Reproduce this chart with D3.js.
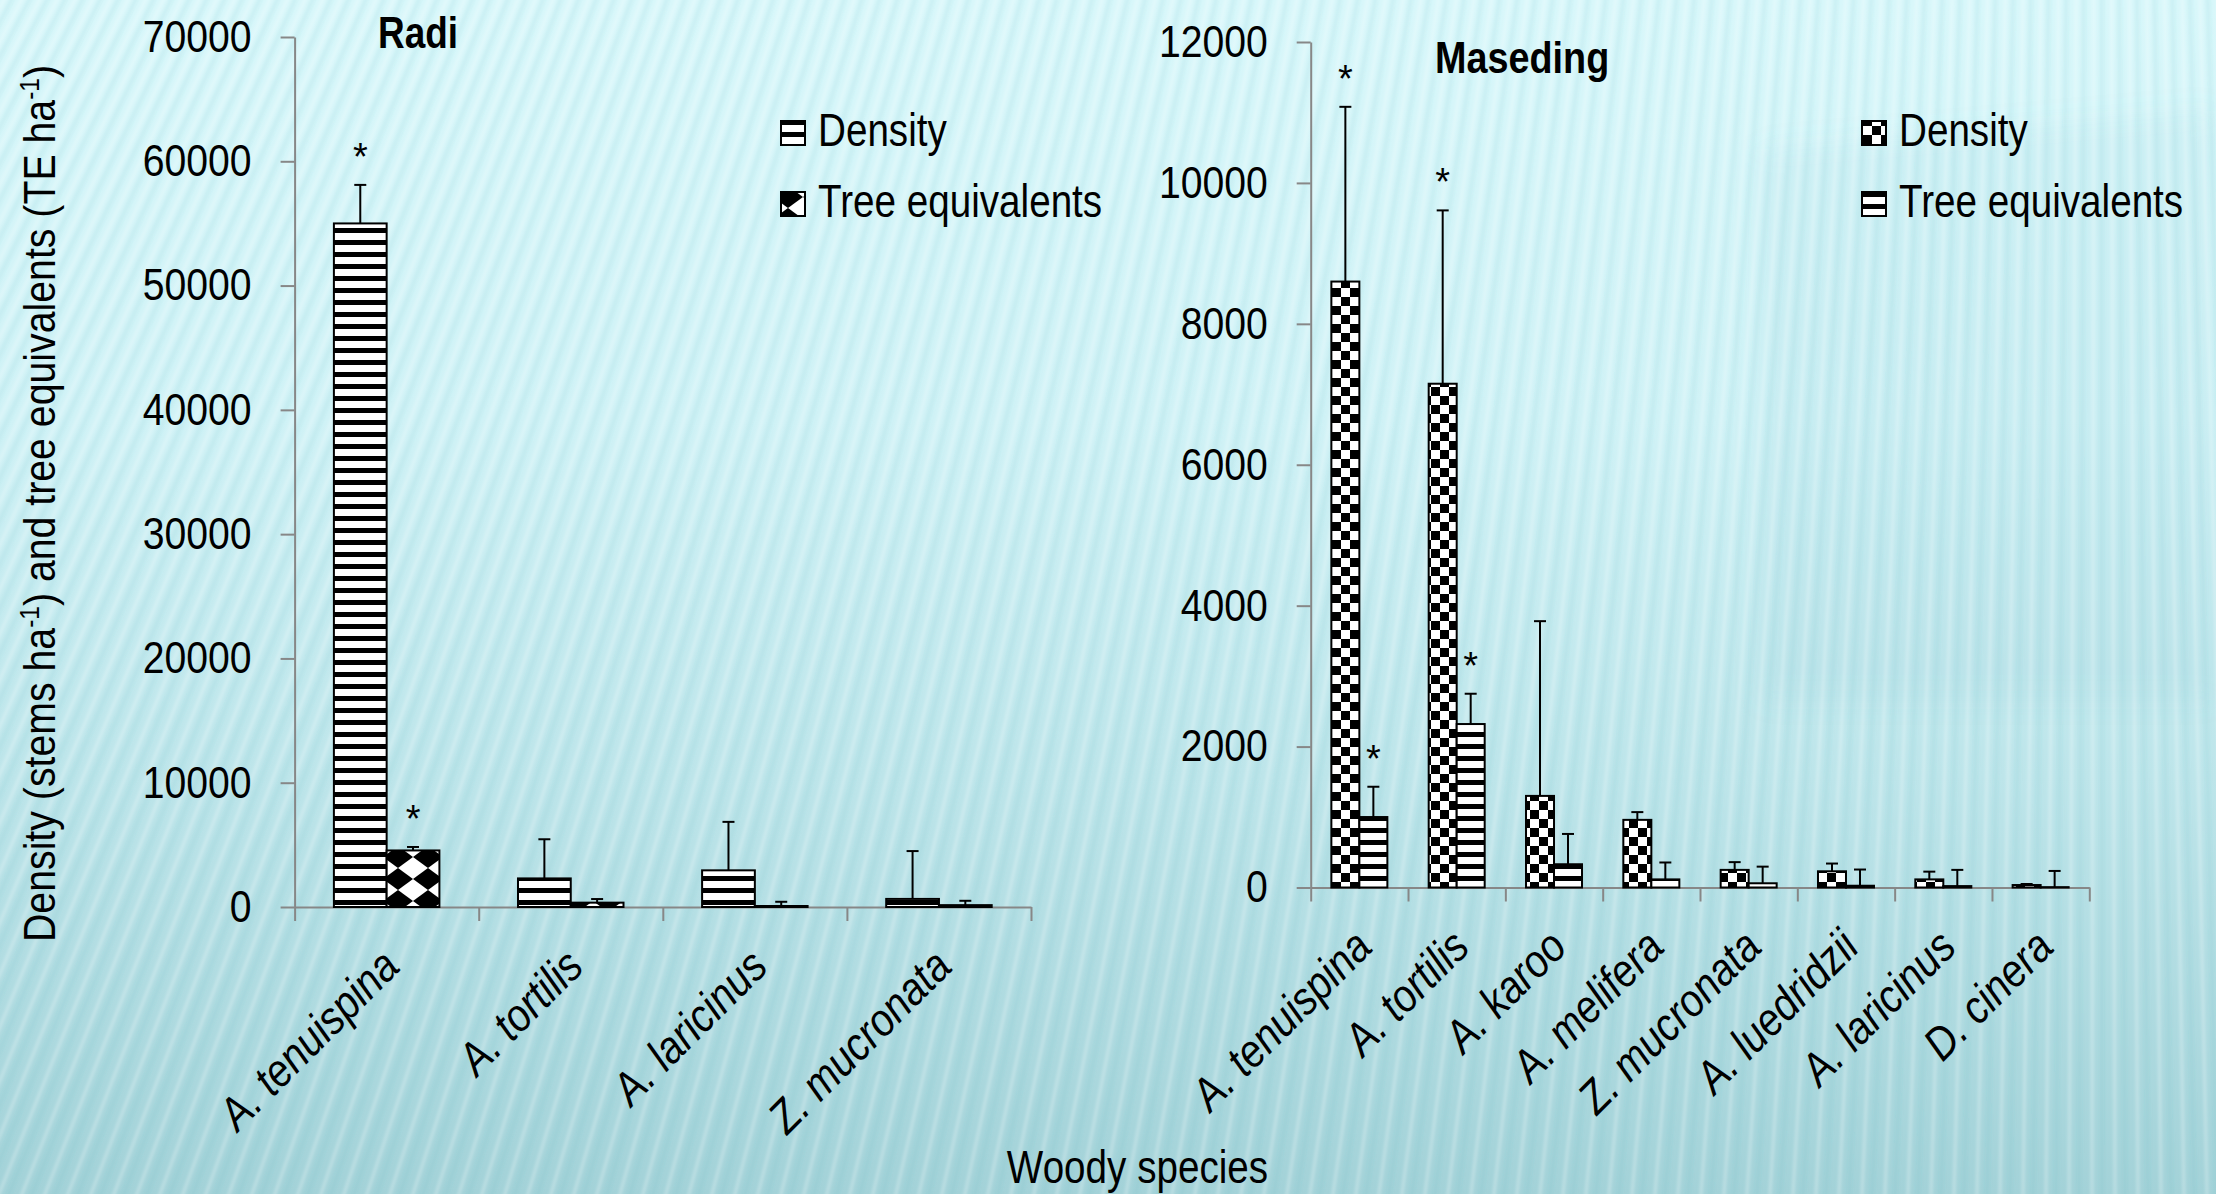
<!DOCTYPE html>
<html><head><meta charset="utf-8">
<script src="https://cdn.jsdelivr.net/npm/d3@7"></script>
<style>html,body{margin:0;padding:0;overflow:hidden;background:#cdeff3}</style>
</head><body><svg id="chart" width="2216" height="1194"></svg>
<script>
// ---------------- DATA ----------------
const radiSpecies = ["A. tenuispina", "A. tortilis", "A. laricinus", "Z. mucronata"];
const radiDensity = [55000, 2300, 2950, 650];
const radiDensitySE = [3100, 3150, 3900, 3850];
const radiDensityStar = [true, false, false, false];
const radiTE = [4550, 350, 80, 150];
const radiTESE = [280, 290, 340, 350];
const radiTEStar = [true, false, false, false];
const radiTicks = [0, 10000, 20000, 30000, 40000, 50000, 60000, 70000];

const masSpecies = ["A. tenuispina", "A. tortilis", "A. karoo", "A. melifera", "Z. mucronata", "A. luedridzii", "A. laricinus", "D. cinera"];
const masDensity = [8600, 7150, 1300, 960, 250, 230, 115, 35];
const masDensitySE = [2480, 2460, 2480, 110, 110, 110, 110, 15];
const masDensityStar = [true, true, false, false, false, false, false, false];
const masTE = [1000, 2320, 330, 115, 60, 25, 20, 5];
const masTESE = [430, 430, 430, 240, 236, 230, 230, 230];
const masTEStar = [true, true, false, false, false, false, false, false];
const masTicks = [0, 2000, 4000, 6000, 8000, 10000, 12000];

const seriesNames = ["Density", "Tree equivalents"];

// ---------------- SETUP ----------------
const W = 2216, H = 1194;
const ARIAL = '"Liberation Sans",Arial,sans-serif';
// narrow font detection (fallback: horizontally squeezed Liberation Sans)
const cv = document.createElement("canvas").getContext("2d");
cv.font = '46px "Liberation Sans Narrow", monospace';
const w1 = cv.measureText("Density Woody species").width;
cv.font = '46px monospace';
const w2 = cv.measureText("Density Woody species").width;
const hasNarrow = Math.abs(w1 - w2) > 0.5;
const NARROW = hasNarrow ? '"Liberation Sans Narrow","Arial Narrow",sans-serif' : ARIAL;
const NK = hasNarrow ? 1 : 0.84;
const NKT = hasNarrow ? 1 : 0.87;
const NKI = hasNarrow ? 1 : 0.87;

function squeeze(sel, k) {
  sel.each(function () {
    const t = d3.select(this);
    const x = +t.attr("x") || 0, y = +t.attr("y") || 0;
    const prev = t.attr("transform") || "";
    t.attr("x", 0).attr("y", 0).attr("transform", `${prev} translate(${x},${y}) scale(${k},1)`);
  });
}

const svg = d3.select("#chart");
const defs = svg.append("defs");

const grad = defs.append("linearGradient").attr("id", "bgGrad")
  .attr("x1", 0).attr("y1", 0).attr("x2", 0).attr("y2", 1);
[[0, "#d8f7fa"], [0.35, "#d0f2f6"], [0.65, "#bde5ea"], [1, "#a3d2d8"]]
  .forEach(([o, c]) => grad.append("stop").attr("offset", o).attr("stop-color", c));

defs.append("filter").attr("id", "soft").attr("x", "-5%").attr("y", "-5%").attr("width", "110%").attr("height", "110%")
  .append("feGaussianBlur").attr("stdDeviation", 1.8);
defs.append("filter").attr("id", "haze").attr("x", "-20%").attr("y", "-20%").attr("width", "140%").attr("height", "140%")
  .append("feGaussianBlur").attr("stdDeviation", 14);

function pattern(id, w, h) {
  return defs.append("pattern").attr("id", id).attr("patternUnits", "userSpaceOnUse")
    .attr("width", w).attr("height", h);
}
const pS = pattern("hstripe", 12, 12);
pS.append("rect").attr("width", 12).attr("height", 12).attr("fill", "#fff");
pS.append("rect").attr("width", 12).attr("height", 5).attr("fill", "#000");

const pC = pattern("checker", 18, 18);
pC.append("rect").attr("width", 18).attr("height", 18).attr("fill", "#fff");
pC.append("rect").attr("width", 9).attr("height", 9).attr("fill", "#000");
pC.append("rect").attr("x", 9).attr("y", 9).attr("width", 9).attr("height", 9).attr("fill", "#000");

const pD = pattern("diamond", 30, 22).attr("x", 23).attr("y", 10);
pD.append("rect").attr("width", 30).attr("height", 22).attr("fill", "#fff");
pD.append("polygon").attr("points", "15,0 30,11 15,22 0,11").attr("fill", "#000");

// ---------------- BACKGROUND ----------------
svg.append("rect").attr("width", W).attr("height", H).attr("fill", "url(#bgGrad)");
svg.append("polygon").attr("points", "1760,150 2216,110 2216,700 1760,700")
  .attr("fill", "#5aa7b2").attr("fill-opacity", 0.07).attr("filter", "url(#haze)");
const streaks = svg.append("g").attr("filter", "url(#soft)");
const FX = 2100, FY = -4000;
const bottoms = d3.range(-760, 2400, 23);
function streakX(bx, yy) { return bx + (FX - bx) * (H - yy) / (H - FY); }
streaks.selectAll("line.l").data(bottoms).join("line").attr("class", "l")
  .attr("x1", d => streakX(d, H + 10)).attr("y1", H + 10)
  .attr("x2", d => streakX(d, -10)).attr("y2", -10)
  .attr("stroke", "#ffffff").attr("stroke-opacity", 0.26).attr("stroke-width", 3.5);
streaks.selectAll("line.d").data(bottoms).join("line").attr("class", "d")
  .attr("x1", d => streakX(d + 10, H + 10)).attr("y1", H + 10)
  .attr("x2", d => streakX(d + 10, -10)).attr("y2", -10)
  .attr("stroke", "#4aa4b0").attr("stroke-opacity", 0.08).attr("stroke-width", 5);

// ---------------- PANELS ----------------
function panel(cfg) {
  const g = svg.append("g");
  const y = d3.scaleLinear().domain([0, cfg.max]).range([cfg.y0, cfg.y1]);
  const xb = d3.scaleBand().domain(cfg.species).range([cfg.x0, cfg.x1]).paddingInner(0).paddingOuter(0);
  const xs = d3.scaleBand().domain(seriesNames).range([0, xb.bandwidth()]).paddingInner(0).paddingOuter(cfg.pad);
  const xBound = d3.scaleLinear().domain([0, cfg.species.length]).range([cfg.x0, cfg.x1]);

  // axes
  const ya = g.append("g").attr("transform", `translate(${cfg.x0},0)`)
    .call(d3.axisLeft(y).tickValues(cfg.ticks).tickFormat(d3.format("d")).tickSize(14).tickSizeOuter(0).tickPadding(29));
  const xa = g.append("g").attr("transform", `translate(0,${cfg.y0})`)
    .call(d3.axisBottom(xBound).tickValues(d3.range(cfg.species.length + 1)).tickFormat("").tickSize(14).tickSizeOuter(0));
  [ya, xa].forEach(a => {
    a.select(".domain").attr("stroke", "#878787").attr("stroke-width", 2);
    a.selectAll(".tick line").attr("stroke", "#878787").attr("stroke-width", 2);
  });
  ya.selectAll(".tick text").attr("font-family", NARROW).attr("font-size", 45).attr("fill", "#000")
    .call(squeeze, NKT);

  const series = [
    { name: seriesNames[0], v: cfg.s1, se: cfg.s1e, star: cfg.s1star, fill: cfg.p1 },
    { name: seriesNames[1], v: cfg.s2, se: cfg.s2e, star: cfg.s2star, fill: cfg.p2 }
  ];
  series.forEach(s => {
    const rows = cfg.species.map((sp, i) => ({ sp, v: s.v[i], se: s.se[i], star: s.star[i] }));
    const gx = d => xb(d.sp) + xs(s.name);
    g.append("g").selectAll("rect").data(rows).join("rect")
      .attr("x", gx).attr("width", xs.bandwidth())
      .attr("y", d => y(d.v)).attr("height", d => y(0) - y(d.v))
      .attr("fill", `url(#${s.fill})`).attr("stroke", "#000").attr("stroke-width", 2);
    const eb = g.append("g").attr("stroke", "#000").attr("stroke-width", 2);
    eb.selectAll("line.v").data(rows).join("line").attr("class", "v")
      .attr("x1", d => gx(d) + xs.bandwidth() / 2).attr("x2", d => gx(d) + xs.bandwidth() / 2)
      .attr("y1", d => y(d.v)).attr("y2", d => y(d.v + d.se));
    eb.selectAll("line.c").data(rows).join("line").attr("class", "c")
      .attr("x1", d => gx(d) + xs.bandwidth() / 2 - 6).attr("x2", d => gx(d) + xs.bandwidth() / 2 + 6)
      .attr("y1", d => y(d.v + d.se)).attr("y2", d => y(d.v + d.se));
    g.append("g").selectAll("text").data(rows.filter(d => d.star)).join("text")
      .attr("x", d => gx(d) + xs.bandwidth() / 2).attr("y", d => y(d.v + d.se) - 15)
      .attr("text-anchor", "middle").attr("font-family", ARIAL).attr("font-size", 38).text("*");
  });

  // category labels
  g.append("g").selectAll("text").data(cfg.species).join("text")
    .attr("transform", d => `translate(${xb(d) + xb.bandwidth() / 2 + 15},${cfg.y0 + 62}) rotate(-45)`)
    .attr("text-anchor", "end").attr("font-family", NARROW).attr("font-style", "italic")
    .attr("font-size", 46).text(d => d).call(squeeze, NKI);

  // title
  g.append("text").attr("x", cfg.tx).attr("y", cfg.ty).attr("font-family", NARROW)
    .attr("font-weight", "bold").attr("font-size", cfg.tsize).text(cfg.title).call(squeeze, NK);

  // legend
  const lg = g.append("g");
  series.forEach((s, i) => {
    lg.append("rect").attr("x", cfg.lx).attr("y", cfg.ly + i * 71).attr("width", 24).attr("height", 24)
      .attr("fill", `url(#${s.fill})`).attr("stroke", "#000").attr("stroke-width", 2);
    lg.append("text").attr("x", cfg.lx + 37).attr("y", cfg.ly + 25 + i * 71)
      .attr("font-family", NARROW).attr("font-size", 46).text(s.name).call(squeeze, NK);
  });
}

panel({
  x0: 294.6, x1: 1031, y0: 907, y1: 37, max: 70000, ticks: radiTicks, pad: 0.745,
  species: radiSpecies, s1: radiDensity, s1e: radiDensitySE, s1star: radiDensityStar,
  s2: radiTE, s2e: radiTESE, s2star: radiTEStar, p1: "hstripe", p2: "diamond",
  title: "Radi", tx: 378, ty: 48, tsize: 44, lx: 781, ly: 121
});
panel({
  x0: 1310.7, x1: 2089.3, y0: 887.5, y1: 42, max: 12000, ticks: masTicks, pad: 0.738,
  species: masSpecies, s1: masDensity, s1e: masDensitySE, s1star: masDensityStar,
  s2: masTE, s2e: masTESE, s2star: masTEStar, p1: "checker", p2: "hstripe",
  title: "Maseding", tx: 1435, ty: 73, tsize: 45, lx: 1862, ly: 121
});

// axis titles
const yt = svg.append("text").attr("transform", "translate(55,503.5) rotate(-90)")
  .attr("text-anchor", "middle").attr("font-family", ARIAL).attr("font-size", 45)
  .attr("textLength", 877).attr("lengthAdjust", "spacingAndGlyphs");
yt.append("tspan").text("Density (stems ha");
yt.append("tspan").attr("dy", -16).attr("font-size", 28).text("-1");
yt.append("tspan").attr("dy", 16).text(") and tree equivalents (TE ha");
yt.append("tspan").attr("dy", -16).attr("font-size", 28).text("-1");
yt.append("tspan").attr("dy", 16).text(")");

svg.append("text").attr("x", 1137.5).attr("y", 1183).attr("text-anchor", "middle")
  .attr("font-family", NARROW).attr("font-size", 46).text("Woody species").call(squeeze, NK);
</script></body></html>
